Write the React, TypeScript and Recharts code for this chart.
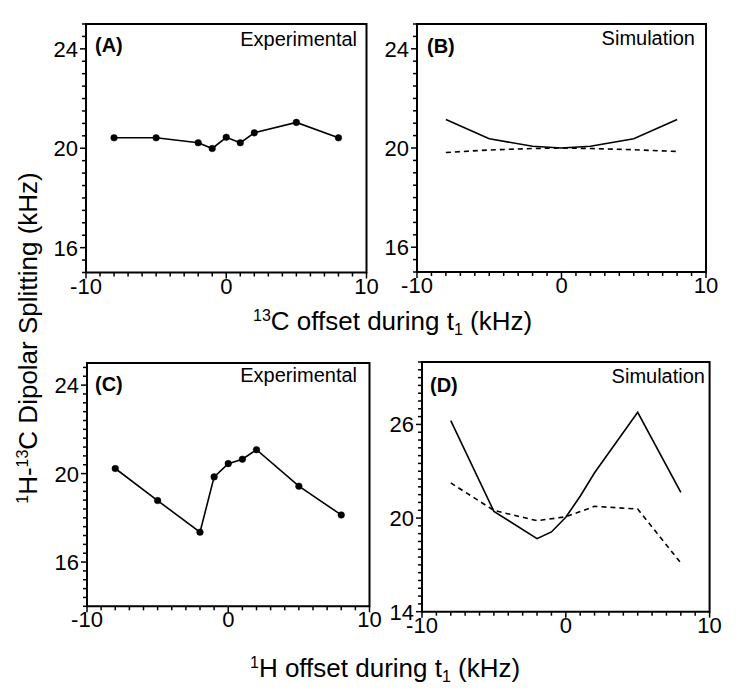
import React from "react";
import { LineChart, Line, XAxis, YAxis, ReferenceArea } from "recharts";

// (A) experimental, 13C offset
const panelAX = [-8, -5, -2, -1, 0, 1, 2, 5, 8];
const panelAY = [20.42, 20.42, 20.22, 19.99, 20.44, 20.22, 20.62, 21.04, 20.42];

// (B) simulation, 13C offset
const panelBX = [-8, -5, -2, 0, 2, 5, 8];
const panelBSolid = [21.15, 20.37, 20.07, 20.0, 20.07, 20.37, 21.15];
const panelBDashed = [19.82, 19.92, 19.98, 20.0, 19.98, 19.93, 19.86];

// (C) experimental, 1H offset
const panelCX = [-8, -5, -2, -1, 0, 1, 2, 5, 8];
const panelCY = [20.23, 18.78, 17.35, 19.85, 20.45, 20.65, 21.08, 19.43, 18.13];

// (D) simulation, 1H offset
const panelDX = [-8, -5, -2, -1, 0, 1, 2, 5, 8];
const panelDSolid = [26.24, 20.43, 18.68, 19.11, 20.05, 21.4, 22.9, 26.78, 21.64];
const panelDDashedX = [-8, -5, -2, 0, 2, 5, 8];
const panelDDashed = [22.25, 20.49, 19.83, 20.08, 20.75, 20.58, 17.12];

const xMajor = [-10, 0, 10];
const yMajorAB = [16, 20, 24];
const yMajorC = [16, 20, 24];
const yMajorD = [14, 20, 26];

const FONT = "'Liberation Sans', Arial, Helvetica, sans-serif";

function steps(from: number, to: number, step: number) {
	const out: number[] = [];
	for (let i = 0; ; i++) {
		const v = Math.round((from + i * step) * 1000) / 1000;
		if (v > to + 1e-9) break;
		out.push(v);
	}
	return out;
}

const isIn = (list: number[], v: number) =>
	list.some((m) => Math.abs(m - v) < 1e-6);

function YTick(props: any) {
	const { x, y, payload, major } = props;
	const big = isIn(major, payload.value);
	const len = big ? 6 : 4;
	return (
		<g>
			<line x1={x} x2={x - len} y1={y} y2={y} stroke="#000" strokeWidth={1.5} />
			{big && (
				<text
					x={x - 8}
					y={y + 8}
					textAnchor="end"
					fontSize={22}
					fontFamily={FONT}
					fill="#000"
				>
					{payload.value}
				</text>
			)}
		</g>
	);
}

function XTick(props: any) {
	const { x, y, payload } = props;
	const big = isIn(xMajor, payload.value);
	const len = big ? 6 : 4;
	return (
		<g>
			<line x1={x} x2={x} y1={y} y2={y + len} stroke="#000" strokeWidth={1.5} />
			{big && (
				<text
					x={x}
					y={y + 21}
					textAnchor="middle"
					fontSize={22}
					fontFamily={FONT}
					fill="#000"
				>
					{payload.value}
				</text>
			)}
		</g>
	);
}

type Series = { key: string; dashed?: boolean; dots?: boolean };

function Panel(props: {
	left: number;
	top: number;
	w: number;
	h: number;
	yDomain: [number, number];
	yStep: number;
	yMajor: number[];
	data: any[];
	series: Series[];
}) {
	const { left, top, w, h, yDomain, yStep, yMajor, data, series } = props;
	const yAxisW = 60;
	const mt = 6;
	const mr = 24;
	const xAxisH = 40;
	return (
		<div style={{ position: "absolute", left: left - yAxisW, top: top - mt }}>
			<LineChart
				width={w + yAxisW + mr}
				height={h + mt + xAxisH}
				data={data}
				margin={{ top: mt, right: mr, bottom: 0, left: 0 }}
			>
				<XAxis
					dataKey="x"
					type="number"
					domain={[-10, 10]}
					ticks={steps(-10, 10, 1)}
					interval={0}
					axisLine={false}
					tickLine={false}
					tickSize={0}
					tickMargin={0}
					height={xAxisH}
					tick={(p: any) => <XTick {...p} />}
				/>
				<YAxis
					type="number"
					domain={yDomain}
					ticks={steps(yDomain[0], yDomain[1], yStep)}
					interval={0}
					axisLine={false}
					tickLine={false}
					tickSize={0}
					tickMargin={0}
					width={yAxisW}
					tick={(p: any) => <YTick {...p} major={yMajor} />}
				/>
				<ReferenceArea
					x1={-10}
					x2={10}
					y1={yDomain[0]}
					y2={yDomain[1]}
					fill="none"
					fillOpacity={0}
					stroke="#000"
					strokeWidth={2}
				/>
				{series.map((s) => (
					<Line
						key={s.key}
						type="linear"
						dataKey={s.key}
						stroke="#000"
						strokeWidth={1.6}
						strokeDasharray={s.dashed ? "5 4" : undefined}
						connectNulls
						dot={s.dots ? { r: 3.3, fill: "#000", stroke: "#000", strokeWidth: 0.5 } : false}
						isAnimationActive={false}
					/>
				))}
			</LineChart>
		</div>
	);
}

const dataA = panelAX.map((x, i) => ({ x, exp: panelAY[i] }));
const dataB = panelBX.map((x, i) => ({
	x,
	sim: panelBSolid[i],
	alt: panelBDashed[i],
}));
const dataC = panelCX.map((x, i) => ({ x, exp: panelCY[i] }));
const dataD = panelDX.map((x, i) => {
	const j = panelDDashedX.indexOf(x);
	return { x, sim: panelDSolid[i], alt: j >= 0 ? panelDDashed[j] : null };
});

const panelText = { fontFamily: FONT, fill: "#000" };

export default function App() {
	return (
		<div
			style={{
				position: "absolute",
				left: 0,
				top: 0,
				width: 744,
				height: 692,
				background: "#fff",
				fontFamily: FONT,
			}}
		>
			<Panel
				left={86}
				top={23.5}
				w={280.5}
				h={248.5}
				yDomain={[15, 25]}
				yStep={0.5}
				yMajor={yMajorAB}
				data={dataA}
				series={[{ key: "exp", dots: true }]}
			/>
			<Panel
				left={416.5}
				top={23.5}
				w={289}
				h={248}
				yDomain={[15, 25]}
				yStep={0.5}
				yMajor={yMajorAB}
				data={dataB}
				series={[{ key: "sim" }, { key: "alt", dashed: true }]}
			/>
			<Panel
				left={86.5}
				top={362.7}
				w={282.5}
				h={243.3}
				yDomain={[14, 25]}
				yStep={0.4}
				yMajor={yMajorC}
				data={dataC}
				series={[{ key: "exp", dots: true }]}
			/>
			<Panel
				left={421.7}
				top={362.3}
				w={287.6}
				h={249.7}
				yDomain={[14, 30]}
				yStep={0.5}
				yMajor={yMajorD}
				data={dataD}
				series={[{ key: "sim" }, { key: "alt", dashed: true }]}
			/>
			<svg
				width={744}
				height={692}
				style={{ position: "absolute", left: 0, top: 0, pointerEvents: "none" }}
			>
				<text x={95} y={52} fontSize={20} fontWeight="bold" {...panelText}>
					(A)
				</text>
				<text x={357} y={46} fontSize={20} textAnchor="end" {...panelText}>
					Experimental
				</text>
				<text x={427} y={53} fontSize={20} fontWeight="bold" {...panelText}>
					(B)
				</text>
				<text x={695} y={45} fontSize={20} textAnchor="end" {...panelText}>
					Simulation
				</text>
				<text x={95} y={391} fontSize={20} fontWeight="bold" {...panelText}>
					(C)
				</text>
				<text x={357} y={382} fontSize={20} textAnchor="end" {...panelText}>
					Experimental
				</text>
				<text x={430} y={392} fontSize={20} fontWeight="bold" {...panelText}>
					(D)
				</text>
				<text x={705} y={383} fontSize={20} textAnchor="end" {...panelText}>
					Simulation
				</text>
				<text x={253} y={330} fontSize={26} {...panelText}>
					<tspan fontSize={16} dy={-9}>13</tspan>
					<tspan dy={9}>C offset during t</tspan>
					<tspan fontSize={16} dy={5}>1</tspan>
					<tspan dy={-5}> (kHz)</tspan>
				</text>
				<text x={250} y={677} fontSize={26} {...panelText}>
					<tspan fontSize={16} dy={-9}>1</tspan>
					<tspan dy={9}>H offset during t</tspan>
					<tspan fontSize={16} dy={5}>1</tspan>
					<tspan dy={-5}> (kHz)</tspan>
				</text>
				<text
					x={0}
					y={0}
					fontSize={26}
					textAnchor="middle"
					transform="translate(37 338) rotate(-90)"
					{...panelText}
				>
					<tspan fontSize={16} dy={-9}>1</tspan>
					<tspan dy={9}>H-</tspan>
					<tspan fontSize={16} dy={-9}>13</tspan>
					<tspan dy={9}>C Dipolar Splitting (kHz)</tspan>
				</text>
			</svg>
		</div>
	);
}
